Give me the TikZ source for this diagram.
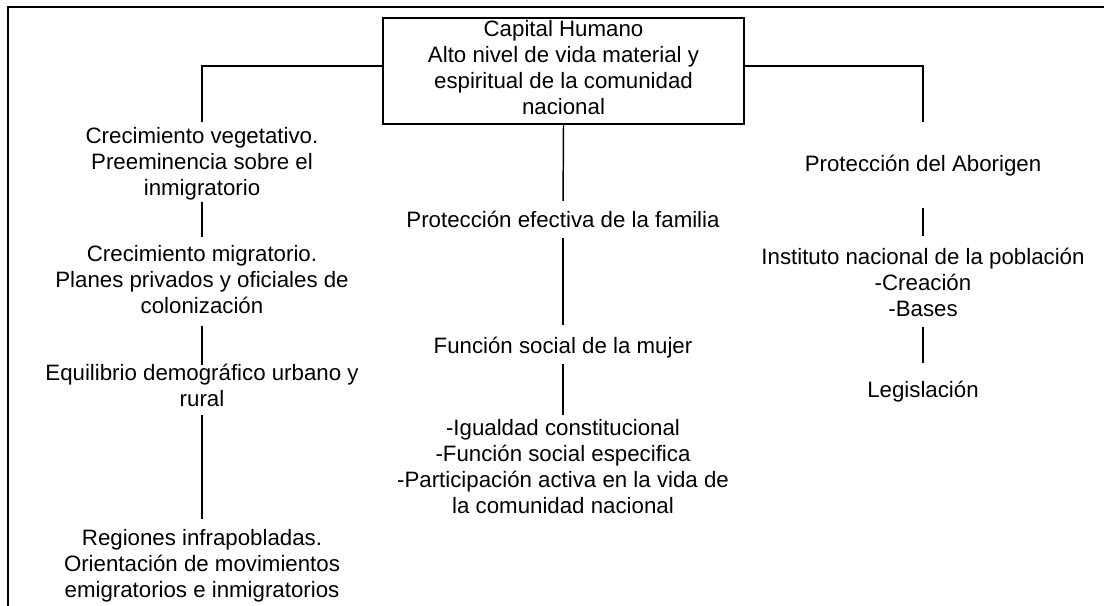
\documentclass[tikz,border=0pt]{standalone}
\usepackage{fontspec}
\setmainfont{Liberation Sans}
\begin{document}
\begin{tikzpicture}[
		x=0.75pt, y=-0.75pt,
		line width=1.1pt,
		every node/.style={font=\fontsize{16.7}{19.5}\selectfont, align=center, inner sep=0pt},
		topic/.style={anchor=north, execute at begin node=\strut, execute at end node=\strut},
		main box/.style={draw, minimum width=270.75pt, minimum height=79.5pt,
			execute at begin node=\strut, execute at end node={\rule[-3.2pt]{0pt}{0pt}}},
		frame/.style={line width=1.6pt}
		]
	\useasboundingbox (0,0) rectangle (1104,606);
	
	% Frame
	\draw[frame] (8,606) -- (8,7) -- (1104,7);
	
	% Main box
	\node[main box] (capital) at (563.5,71) {Capital Humano\\Alto nivel de vida material y\\espiritual de la comunidad\\nacional};
	
	% Left column
	\node[topic] (vegetativo) at (202,126.8) {Crecimiento vegetativo.\\Preeminencia sobre el\\inmigratorio};
	\node[topic] (migratorio) at (202,244.8) {Crecimiento migratorio.\\Planes privados y oficiales de\\colonización};
	\node[topic] (equilibrio) at (202,363.8) {Equilibrio demográfico urbano y\\rural};
	\node[topic] (regiones) at (202,528.8) {Regiones infrapobladas.\\Orientación de movimientos\\emigratorios e inmigratorios};
	
	% Center column
	\node[topic] (familia) at (563,208.8) {Protección efectiva de la familia};
	\node[topic] (mujer) at (563,334.8) {Función social de la mujer};
	\node[topic] (igualdad) at (563,418.8) {-Igualdad constitucional\\-Función social especifica\\-Participación activa en la vida de\\la comunidad nacional};
	
	% Right column
	\node[topic] (aborigen) at (923,152.8) {Protección del Aborigen};
	\node[topic] (instituto) at (923,247.8) {Instituto nacional de la población\\-Creación\\-Bases};
	\node[topic] (legislacion) at (923,378.8) {Legislación};
	
	% Branches from the main box
	\draw[shorten >=3.5pt] ([yshift=3.75pt]capital.west) -| (vegetativo.north);
	\draw[shorten >=23pt] ([yshift=3.75pt]capital.east) -| (aborigen.north);
	\draw[shorten >=6pt] (capital.south) -- (familia.north);
	
	% Left links
	\draw[shorten <=-2pt, shorten >=6pt] (vegetativo.south) -- (migratorio.north);
	\draw[shorten <=3pt, shorten >=-1pt] (migratorio.south) -- (equilibrio.north);
	\draw[shorten <=0pt, shorten >=7.5pt] (equilibrio.south) -- (regiones.north);
	
	% Center links
	\draw[shorten <=1.5pt, shorten >=7.5pt] (familia.south) -- (mujer.north);
	\draw[shorten <=1.5pt, shorten >=3pt] (mujer.south) -- (igualdad.north);
	
	% Right links
	\draw[shorten <=21pt, shorten >=9pt] (aborigen.south) -- (instituto.north);
	\draw[shorten <=1pt, shorten >=12pt] (instituto.south) -- (legislacion.north);
	
\end{tikzpicture}
\end{document}
